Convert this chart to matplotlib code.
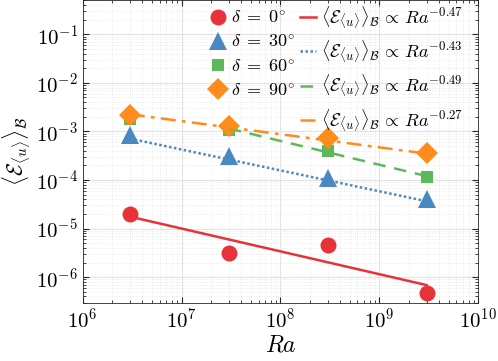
import matplotlib
matplotlib.use("Agg")
import matplotlib.pyplot as plt
import numpy as np

plt.rcParams['mathtext.fontset'] = 'cm'
plt.rcParams['font.family'] = 'serif'
plt.rcParams['font.serif'] = ['cmr10', 'DejaVu Serif']
plt.rcParams['axes.formatter.use_mathtext'] = True

# ---- data ----
Ra = [3e6, 3e7, 3e8, 3e9]
err_d0 = [2.0e-5, 3.1e-6, 4.5e-6, 4.7e-7]
err_d30 = [8.6e-4, 3.06e-4, 1.1e-4, 4.07e-5]
err_d60 = [1.8e-3, 1.05e-3, 3.9e-4, 1.16e-4]
err_d90 = [2.2e-3, 1.31e-3, 7.3e-4, 3.6e-4]
angles = [0, 30, 60, 90]
exponents = [-0.47, -0.43, -0.49, -0.27]
prefactors = [0.0195, 0.434, 5.3, 0.1265]
fit_start = [0, 0, 1, 0]   # index of first Ra used by each fit line

series = [err_d0, err_d30, err_d60, err_d90]
colors = ['#E8323A', '#4A88C2', '#5DB85B', '#FF8C1A']
markers = ['o', '^', 's', 'D']
msizes = [11.5, 12.5, 9, 11]
lstyles = ['-', (0, (1, 1)), (0, (5, 3.5)), (0, (6, 2.5, 1.5, 2.5))]

fig = plt.figure(figsize=(4.98, 3.61), dpi=100)
ax = fig.add_axes([0.166, 0.162, 0.7945, 0.837])

mhandles, lhandles = [], []
for vals, c, m, ms, a in zip(series, colors, markers, msizes, angles):
    h, = ax.plot(Ra, vals, linestyle='none', marker=m, markersize=ms,
                 color=c, markeredgewidth=0, label=rf'$\delta\;=\;{a}^{{\circ}}$', zorder=3)
    mhandles.append(h)
for c, ls, b, C, i0 in zip(colors, lstyles, exponents, prefactors, fit_start):
    x = np.array(Ra[i0:])
    h, = ax.plot(x, C * x ** b, linestyle=ls, color=c, lw=1.8,
                 label=r'$\langle\mathcal{E}_{\langle u\rangle}\rangle_\mathcal{B}\,\propto\,Ra^{%.2f}$' % b,
                 zorder=4)
    lhandles.append(h)

ax.set_xscale('log')
ax.set_yscale('log')
ax.set_xlim(1e6, 1e10)
ax.set_ylim(3e-7, 0.5)
ax.set_xticks([1e6, 1e7, 1e8, 1e9, 1e10])
ax.set_yticks([1e-6, 1e-5, 1e-4, 1e-3, 1e-2, 1e-1])
ax.grid(True, which='major', color='#e3e3e3', lw=0.8, ls='-')
ax.grid(True, which='minor', color='#e6e6e6', lw=0.6, ls=':')
ax.set_axisbelow(True)
ax.tick_params(which='both', direction='in', top=True, right=True, labelsize=15,
               color='#262626')
ax.tick_params(which='major', length=4)
ax.tick_params(which='minor', length=2)
for s in ax.spines.values():
    s.set_color('#262626')
    s.set_linewidth(0.6)

ax.set_xlabel(r'$Ra$', fontsize=17, labelpad=2)
ax.set_ylabel(r'$\langle\mathcal{E}_{\langle u\rangle}\rangle_\mathcal{B}$', fontsize=15.5)
ax.yaxis.set_label_coords(-0.128, 0.5)

ax.legend(mhandles + lhandles, [h.get_label() for h in mhandles + lhandles],
          ncol=2, loc='upper right', frameon=False, fontsize=13,
          handlelength=0.9, handletextpad=0.25, columnspacing=0.3,
          labelspacing=0.42, borderaxespad=0.0, borderpad=0.2,
          bbox_to_anchor=(0.97, 1.0))

fig.savefig('out.png', dpi=100)
